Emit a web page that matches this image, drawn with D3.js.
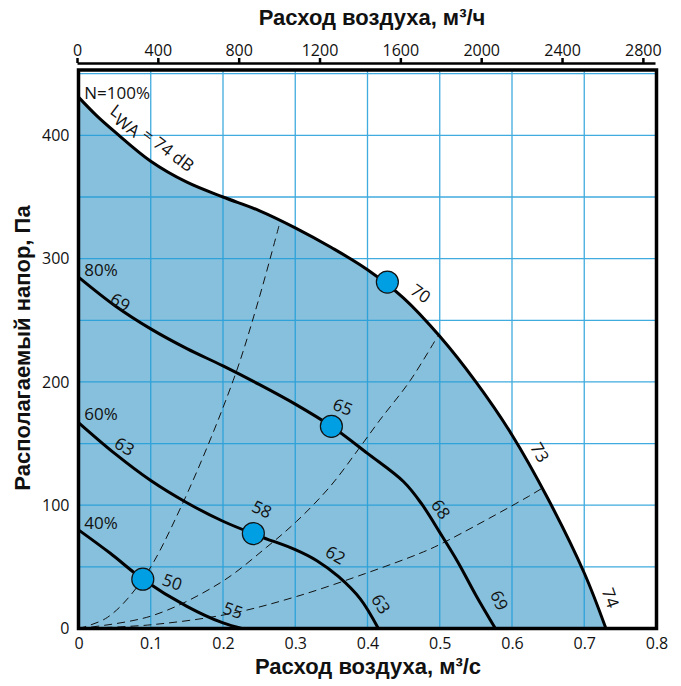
<!DOCTYPE html>
<html>
<head>
  <title>Fan curve</title>
  <style>
    body { margin: 0; background: #fff; }
    .tick text { font-family: "Open Sans", sans-serif; font-size: 16px; fill: #111; }
    .title { font-family: "Liberation Sans Narrow", "Arial Narrow", "Liberation Sans", sans-serif; font-weight: bold; font-size: 22px; fill: #111; }
    .lbl { font-family: "Open Sans", sans-serif; font-size: 17px; fill: #111; }
  </style>
</head>
<body>
  <div id="chart"></div>

  <script src="https://d3js.org/d3.v7.min.js"></script>
  <script>
    // axis ticks
    const flowTicks = [0, 0.1, 0.2, 0.3, 0.4, 0.5, 0.6, 0.7, 0.8];
    const pressTicks = [0, 100, 200, 300, 400];
    const hourTicks = [0, 400, 800, 1200, 1600, 2000, 2400, 2800];

    // fan curves [m3/s, Pa]
    const curve100 = [[0, 431], [0.025, 416], [0.05, 403], [0.1, 379], [0.15, 362], [0.2, 350], [0.25, 339],
      [0.3, 325], [0.35, 309], [0.4, 291], [0.45, 268], [0.5, 237], [0.55, 200], [0.6, 157],
      [0.65, 105], [0.7, 45], [0.73, 0]];
    const curve80 = [[0, 285], [0.05, 262], [0.1, 243], [0.15, 227], [0.2, 213], [0.25, 198], [0.3, 182],
      [0.35, 164], [0.4, 142], [0.45, 119], [0.475, 101], [0.5, 78], [0.525, 54], [0.55, 27], [0.577, 0]];
    const curve60 = [[0, 167], [0.05, 142], [0.1, 120], [0.15, 102], [0.2, 87], [0.25, 75], [0.3, 64],
      [0.33, 55], [0.36, 42], [0.39, 24], [0.415, 0]];
    const curve40 = [[0, 80], [0.044, 61], [0.089, 40], [0.15, 18], [0.2, 4.5], [0.226, 0]];

    // system lines (dashed)
    const dash1 = [[0, 0], [0.04, 9], [0.089, 40], [0.143, 100], [0.214, 201], [0.249, 266], [0.279, 330]];
    const dash2 = [[0, 0], [0.1, 10], [0.196, 37], [0.2605, 66], [0.302, 87], [0.348, 115], [0.387, 145],
      [0.417, 169], [0.459, 201], [0.497, 237]];
    const dash3 = [[0, 0], [0.1, 3], [0.21, 12], [0.302, 26], [0.399, 45], [0.4726, 61], [0.503, 69],
      [0.6225, 107], [0.645, 115]];

    // operating points
    const points = [[0.089, 40], [0.242, 77], [0.35, 164], [0.4275, 281]];

    // labels: text, flow, pressure, angle
    const pctLabels = [["80%", 0.008, 286], ["60%", 0.008, 169], ["40%", 0.008, 81]];
    const curveLabels = [["69", 0.058, 265, 30], ["63", 0.064, 148, 30], ["50", 0.13, 38, 20], ["55", 0.214, 15, 20],
      ["58", 0.254, 97, 25], ["62", 0.356, 60, 30], ["63", 0.419, 20, 58], ["65", 0.366, 180, 22],
      ["68", 0.502, 97, 55], ["69", 0.583, 23, 65], ["70", 0.474, 272, 35], ["73", 0.639, 143, 60], ["74", 0.737, 25, 70]];

    const W = 681, H = 686;
    const svg = d3.select("#chart").append("svg")
      .attr("width", W)
      .attr("height", H);

    const x = d3.scaleLinear().domain([0, 0.8]).range([78.5, 656.5]);
    const y = d3.scaleLinear().domain([0, 453]).range([628.5, 70]);
    const xTop = d3.scaleLinear().domain([0, 2860]).range([77, 655]);

    const smooth = d3.curveCatmullRom.alpha(0.5);

    // fill under 100% curve
    svg.append("path")
      .datum(curve100)
      .attr("fill", "#87c0dc")
      .attr("d", d3.area().x(d => x(d[0])).y0(y(0)).y1(d => y(d[1])).curve(smooth));

    // grid
    const grid = svg.append("g").attr("stroke", "#1f9dd9").attr("stroke-width", 1.3).attr("opacity", 0.85);
    grid.selectAll(".vg").data(flowTicks.slice(1, -1)).join("line")
      .attr("x1", d => x(d)).attr("x2", d => x(d)).attr("y1", y(0)).attr("y2", y(453));
    grid.selectAll(".hg").data(d3.range(50, 451, 50)).join("line")
      .attr("y1", d => y(d)).attr("y2", d => y(d)).attr("x1", x(0)).attr("x2", x(0.8));

    // dashed system lines
    const line = d3.line().x(d => x(d[0])).y(d => y(d[1])).curve(smooth);
    svg.selectAll(".dash").data([dash1, dash2, dash3]).join("path")
      .attr("fill", "none").attr("stroke", "#111").attr("stroke-width", 1)
      .attr("stroke-dasharray", "8,5")
      .attr("d", line);

    // fan curves
    svg.selectAll(".fan").data([curve100, curve80, curve60, curve40]).join("path")
      .attr("fill", "none").attr("stroke", "#000").attr("stroke-width", 3)
      .attr("d", line);

    // frame
    svg.append("rect")
      .attr("x", x(0)).attr("y", y(453))
      .attr("width", x(0.8) - x(0)).attr("height", y(0) - y(453))
      .attr("fill", "none").attr("stroke", "#000").attr("stroke-width", 3.5);

    // operating points
    svg.selectAll(".pt").data(points).join("circle")
      .attr("cx", d => x(d[0])).attr("cy", d => y(d[1])).attr("r", 11)
      .attr("fill", "#009fe3").attr("stroke", "#111").attr("stroke-width", 1.2);

    // axes
    svg.append("g")
      .attr("transform", `translate(0,${y(0)})`)
      .call(d3.axisBottom(x).tickValues(flowTicks).tickSize(0).tickPadding(9).tickFormat(d3.format("")))
      .call(g => g.select(".domain").remove());

    svg.append("g")
      .attr("transform", `translate(${x(0)},0)`)
      .call(d3.axisLeft(y).tickValues(pressTicks).tickSize(0).tickPadding(9))
      .call(g => g.select(".domain").remove());

    svg.append("g")
      .attr("transform", "translate(0,63)")
      .call(d3.axisTop(xTop).tickValues(hourTicks).tickSize(5).tickSizeOuter(0).tickPadding(2).tickFormat(d3.format("d")))
      .call(g => g.select(".domain").attr("stroke-width", 2.5))
      .call(g => g.selectAll(".tick line").attr("stroke-width", 2.5));

    // axis titles
    svg.append("text").attr("class", "title").attr("x", 372).attr("y", 25)
      .attr("text-anchor", "middle").text("Расход воздуха, м³/ч");
    svg.append("text").attr("class", "title").attr("x", 368).attr("y", 674)
      .attr("text-anchor", "middle").text("Расход воздуха, м³/с");
    svg.append("text").attr("class", "title")
      .attr("transform", "translate(30,348) rotate(-90)")
      .attr("text-anchor", "middle").text("Располагаемый напор, Па");

    // curve labels
    svg.append("text").attr("class", "lbl").attr("x", x(0.008)).attr("y", 99).text("N=100%");
    const lwa = svg.append("text").attr("class", "lbl")
      .attr("transform", "translate(109,113) rotate(37)");
    lwa.append("tspan").text("L");
    lwa.append("tspan").attr("dy", 5).text("WA");
    lwa.append("tspan").attr("dy", -5).text(" = 74 dB");

    svg.selectAll(".pct").data(pctLabels).join("text").attr("class", "lbl")
      .attr("x", d => x(d[1])).attr("y", d => y(d[2])).text(d => d[0]);

    svg.selectAll(".cl").data(curveLabels).join("text").attr("class", "lbl")
      .attr("text-anchor", "middle").attr("dominant-baseline", "central")
      .attr("transform", d => `translate(${x(d[1])},${y(d[2])}) rotate(${d[3]})`)
      .text(d => d[0]);
  </script>
</body>
</html>
